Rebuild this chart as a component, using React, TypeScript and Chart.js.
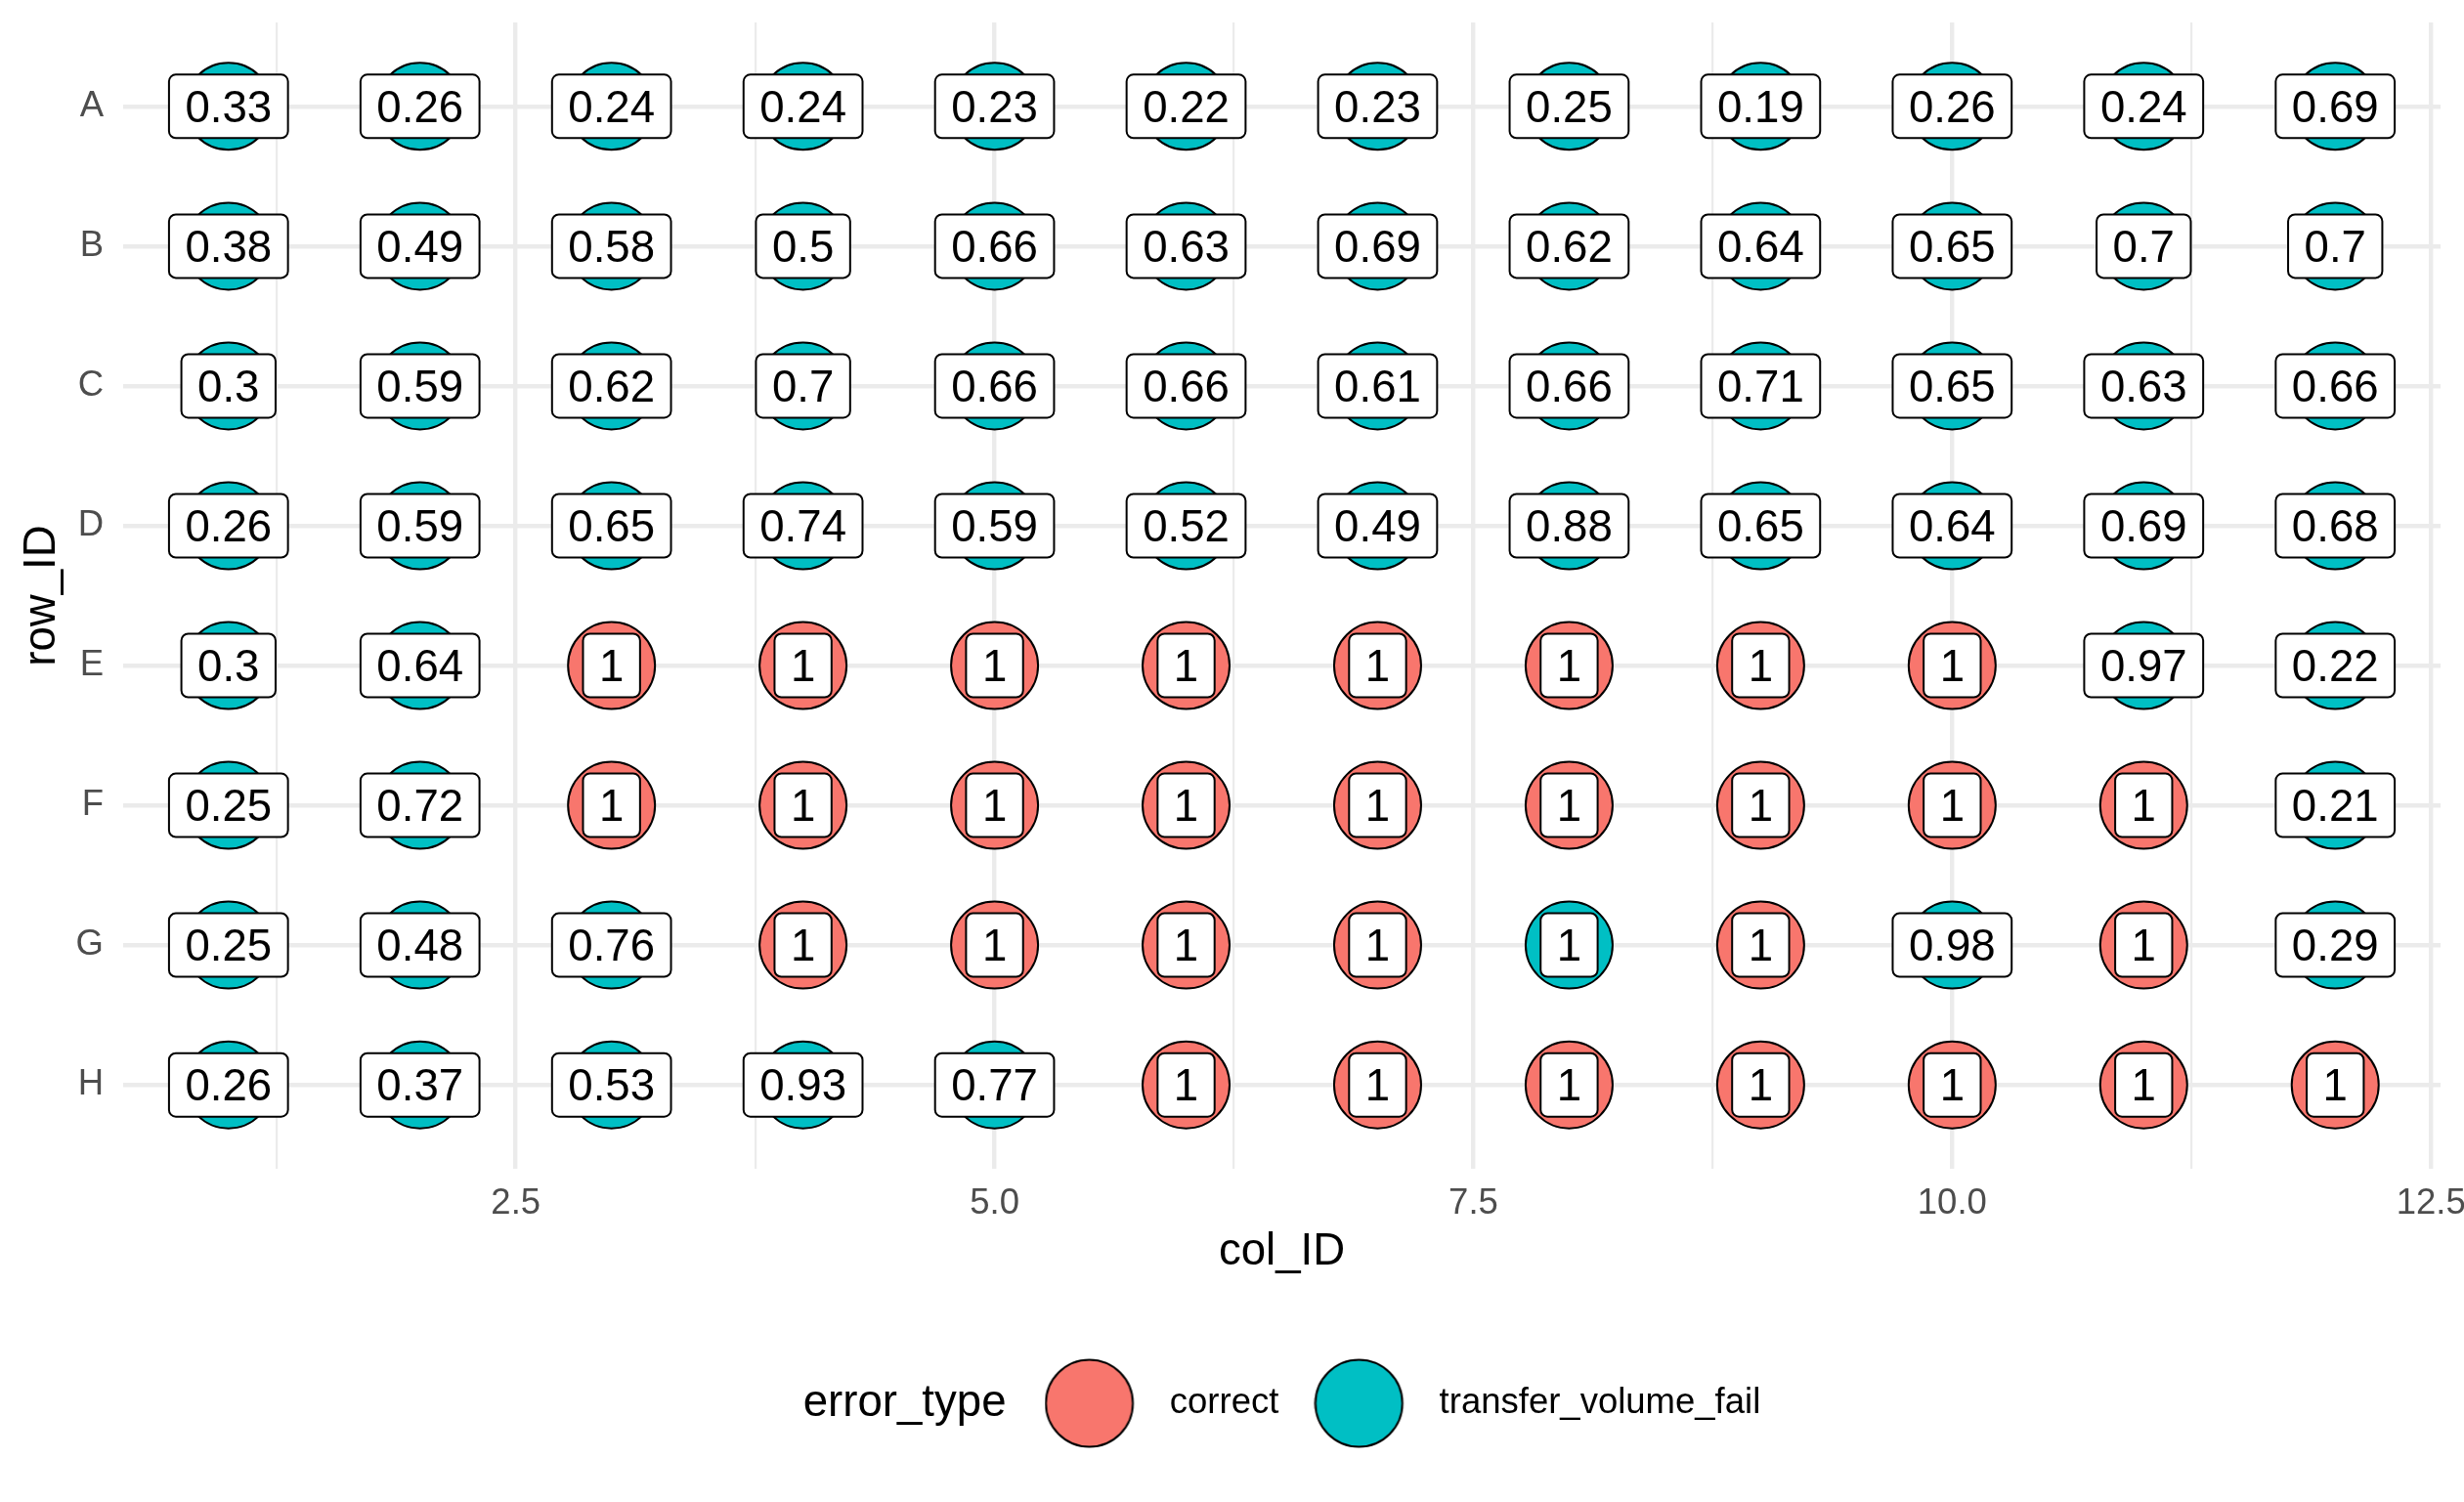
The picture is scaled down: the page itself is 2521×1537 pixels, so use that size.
import React, { useEffect, useRef } from 'react';
import { Chart, registerables } from 'chart.js';

Chart.register(...registerables);

// ---------- data ----------
const rowLabels = ['A', 'B', 'C', 'D', 'E', 'F', 'G', 'H'];
const colIds = [1, 2, 3, 4, 5, 6, 7, 8, 9, 10, 11, 12];
const xTickValues = [1.25, 2.5, 3.75, 5, 6.25, 7.5, 8.75, 10, 11.25, 12.5];
const xMajorTicks = [2.5, 5, 7.5, 10, 12.5];

const valuesA = [0.33, 0.26, 0.24, 0.24, 0.23, 0.22, 0.23, 0.25, 0.19, 0.26, 0.24, 0.69];
const valuesB = [0.38, 0.49, 0.58, 0.5, 0.66, 0.63, 0.69, 0.62, 0.64, 0.65, 0.7, 0.7];
const valuesC = [0.3, 0.59, 0.62, 0.7, 0.66, 0.66, 0.61, 0.66, 0.71, 0.65, 0.63, 0.66];
const valuesD = [0.26, 0.59, 0.65, 0.74, 0.59, 0.52, 0.49, 0.88, 0.65, 0.64, 0.69, 0.68];
const valuesE = [0.3, 0.64, 1, 1, 1, 1, 1, 1, 1, 1, 0.97, 0.22];
const valuesF = [0.25, 0.72, 1, 1, 1, 1, 1, 1, 1, 1, 1, 0.21];
const valuesG = [0.25, 0.48, 0.76, 1, 1, 1, 1, 1, 1, 0.98, 1, 0.29];
const valuesH = [0.26, 0.37, 0.53, 0.93, 0.77, 1, 1, 1, 1, 1, 1, 1];

const C = 'correct';
const T = 'transfer_volume_fail';
const errorTypes = [C, T];
const typesA = [T, T, T, T, T, T, T, T, T, T, T, T];
const typesB = [T, T, T, T, T, T, T, T, T, T, T, T];
const typesC = [T, T, T, T, T, T, T, T, T, T, T, T];
const typesD = [T, T, T, T, T, T, T, T, T, T, T, T];
const typesE = [T, T, C, C, C, C, C, C, C, C, T, T];
const typesF = [T, T, C, C, C, C, C, C, C, C, C, T];
const typesG = [T, T, T, C, C, C, C, T, C, T, C, T];
const typesH = [T, T, T, T, T, C, C, C, C, C, C, C];

const rowValues = [valuesA, valuesB, valuesC, valuesD, valuesE, valuesF, valuesG, valuesH];
const rowTypes = [typesA, typesB, typesC, typesD, typesE, typesF, typesG, typesH];

// ---------- styles ----------
const FONT = "'Liberation Sans', Arial, Helvetica, sans-serif";
const TITLE_SIZE = 45.6;
const TICK_SIZE = 36.5;
const LABEL_SIZE = 45.6;
const typeColors: Record<string, string> = { correct: '#F8766D', transfer_volume_fail: '#00BFC4' };
const GRID_COLOR = '#EBEBEB';
const POINT_RADIUS = 44.5;
const LABEL_PAD_X = 16.5;
const LABEL_BOX_H = 65;
const LEGEND_TITLE = 'error_type';
const LEGEND_TITLE_GAP = 39;
const LEGEND_SYMBOL_W = 110;

function makeSymbol(color: string): HTMLCanvasElement {
  const c = document.createElement('canvas');
  c.width = LEGEND_SYMBOL_W;
  c.height = 96;
  const g = c.getContext('2d')!;
  g.beginPath();
  g.arc(46, 48, POINT_RADIUS, 0, Math.PI * 2);
  g.fillStyle = color;
  g.fill();
  g.lineWidth = 2;
  g.strokeStyle = '#000';
  g.stroke();
  return c;
}

function roundRectPath(ctx: CanvasRenderingContext2D, x: number, y: number, w: number, h: number, r: number) {
  ctx.beginPath();
  ctx.moveTo(x + r, y);
  ctx.lineTo(x + w - r, y);
  ctx.arcTo(x + w, y, x + w, y + r, r);
  ctx.lineTo(x + w, y + h - r);
  ctx.arcTo(x + w, y + h, x + w - r, y + h, r);
  ctx.lineTo(x + r, y + h);
  ctx.arcTo(x, y + h, x, y + h - r, r);
  ctx.lineTo(x, y + r);
  ctx.arcTo(x, y, x + r, y, r);
  ctx.closePath();
}

const cellLabelPlugin = {
  id: 'cellLabels',
  afterDatasetsDraw(chart: any) {
    const ctx: CanvasRenderingContext2D = chart.ctx;
    ctx.save();
    ctx.font = `${LABEL_SIZE}px ${FONT}`;
    chart.data.datasets.forEach((ds: any, di: number) => {
      const meta = chart.getDatasetMeta(di);
      meta.data.forEach((el: any, j: number) => {
        const text = String(ds.data[j].value);
        const tw = ctx.measureText(text).width;
        const w = tw + 2 * LABEL_PAD_X;
        const h = LABEL_BOX_H;
        roundRectPath(ctx, el.x - w / 2, el.y - h / 2, w, h, 7);
        ctx.fillStyle = '#FFFFFF';
        ctx.fill();
        ctx.lineWidth = 2;
        ctx.strokeStyle = '#000000';
        ctx.stroke();
        ctx.fillStyle = '#000000';
        ctx.textAlign = 'center';
        ctx.textBaseline = 'alphabetic';
        ctx.fillText(text, el.x, el.y + (0.716 * LABEL_SIZE) / 2);
      });
    });
    ctx.restore();
  },
};

const legendTitlePlugin = {
  id: 'legendTitle',
  afterUpdate(chart: any) {
    const lg = chart.legend;
    if (!lg || !lg.legendHitBoxes || !lg.legendHitBoxes.length) return;
    const ctx: CanvasRenderingContext2D = chart.ctx;
    ctx.save();
    ctx.font = `${TITLE_SIZE}px ${FONT}`;
    const titleW = ctx.measureText(LEGEND_TITLE).width;
    ctx.restore();
    const boxes = lg.legendHitBoxes;
    const pad = lg.options.labels.padding;
    const rowW = boxes.reduce((s: number, b: any) => s + b.width, 0) + pad * (boxes.length - 1);
    const total = titleW + LEGEND_TITLE_GAP + rowW;
    const ca = chart.chartArea;
    const start = (ca.left + ca.right) / 2 - total / 2;
    const newLeft = start + titleW + LEGEND_TITLE_GAP - pad;
    const dx = newLeft - lg.left;
    lg.left += dx;
    lg.right += dx;
    // let the large legend keys show fully (legend drawing is clipped to its box)
    lg.bottom = Math.max(lg.bottom, lg.top + 140);
    boxes.forEach((b: any) => { b.left += dx; });
    chart.$legendTitleX = start;
  },
  afterDraw(chart: any) {
    const lg = chart.legend;
    if (!lg || chart.$legendTitleX === undefined) return;
    const ctx: CanvasRenderingContext2D = chart.ctx;
    const pad = lg.options.labels.padding;
    const cy = lg.top + pad + TICK_SIZE / 2;
    ctx.save();
    ctx.font = `${TITLE_SIZE}px ${FONT}`;
    ctx.fillStyle = '#000000';
    ctx.textAlign = 'left';
    ctx.textBaseline = 'middle';
    ctx.fillText(LEGEND_TITLE, chart.$legendTitleX, cy);
    ctx.restore();
  },
};

export default function App() {
  const canvasRef = useRef<HTMLCanvasElement | null>(null);

  useEffect(() => {
    if (!canvasRef.current) return;
    const datasets = errorTypes.map((type) => {
      const pts: any[] = [];
      rowLabels.forEach((_, ri) => {
        colIds.forEach((col, ci) => {
          if (rowTypes[ri][ci] === type) pts.push({ x: col, y: ri, value: rowValues[ri][ci] });
        });
      });
      return {
        label: type,
        data: pts,
        pointRadius: POINT_RADIUS,
        pointHoverRadius: POINT_RADIUS,
        pointBackgroundColor: typeColors[type],
        backgroundColor: typeColors[type],
        pointBorderColor: '#000000',
        borderColor: '#000000',
        pointBorderWidth: 2,
        showLine: false,
        clip: false,
      };
    });

    const symbols: Record<string, HTMLCanvasElement> = {
      correct: makeSymbol(typeColors.correct),
      transfer_volume_fail: makeSymbol(typeColors.transfer_volume_fail),
    };

    const chart = new Chart(canvasRef.current, {
      type: 'scatter',
      data: { datasets } as any,
      plugins: [cellLabelPlugin, legendTitlePlugin] as any,
      options: {
        animation: false,
        responsive: false,
        devicePixelRatio: 1,
        events: [],
        layout: { autoPadding: false, padding: { left: 0, top: 23, right: 24, bottom: 72.75 } },
        scales: {
          x: {
            type: 'linear',
            min: 0.45,
            max: 12.55,
            afterBuildTicks: (scale: any) => {
              scale.ticks = xTickValues.map((v) => ({ value: v }));
            },
            afterFit: (scale: any) => {
              scale.height = 185.75;
              scale.paddingLeft = 0;
              scale.paddingRight = 0;
              scale.paddingTop = 0;
              scale.paddingBottom = 0;
            },
            border: { display: false },
            grid: {
              color: GRID_COLOR,
              drawTicks: false,
              lineWidth: (ctx: any) => (xMajorTicks.includes(ctx.tick?.value) ? 4.4 : 2.2),
            },
            ticks: {
              autoSkip: false,
              maxRotation: 0,
              minRotation: 0,
              padding: 14,
              color: '#4D4D4D',
              font: { size: TICK_SIZE, family: FONT },
              callback: (value: any) => (xMajorTicks.includes(Number(value)) ? Number(value).toFixed(1) : ''),
            },
            title: {
              display: true,
              text: 'col_ID',
              color: '#000000',
              font: { size: TITLE_SIZE, family: FONT },
              padding: { top: 0, bottom: 73.4 },
            },
          },
          y: {
            type: 'linear',
            min: -0.6,
            max: 7.6,
            reverse: true,
            afterBuildTicks: (scale: any) => {
              scale.ticks = rowLabels.map((_, i) => ({ value: i }));
            },
            afterFit: (scale: any) => {
              scale.width = 126;
              scale.paddingLeft = 0;
              scale.paddingRight = 0;
              scale.paddingTop = 0;
              scale.paddingBottom = 0;
            },
            border: { display: false },
            grid: { color: GRID_COLOR, drawTicks: false, lineWidth: 4.4 },
            ticks: {
              autoSkip: false,
              padding: 20,
              color: '#4D4D4D',
              font: { size: TICK_SIZE, family: FONT },
              callback: (value: any) => rowLabels[Number(value)] ?? '',
            },
            title: {
              display: true,
              text: 'row_ID',
              color: '#000000',
              font: { size: TITLE_SIZE, family: FONT },
              padding: { top: 16, bottom: 0 },
            },
          },
        },
        plugins: {
          tooltip: { enabled: false },
          legend: {
            display: true,
            position: 'bottom',
            align: 'start',
            labels: {
              usePointStyle: true,
              pointStyleWidth: LEGEND_SYMBOL_W,
              padding: 36,
              color: '#000000',
              font: { size: TICK_SIZE, family: FONT },
              generateLabels: () =>
                errorTypes.map((type, i) => ({
                  text: type,
                  pointStyle: symbols[type] as any,
                  fillStyle: typeColors[type],
                  strokeStyle: '#000000',
                  lineWidth: 2,
                  fontColor: '#000000',
                  hidden: false,
                  datasetIndex: i,
                })),
            },
          },
        },
      } as any,
    });

    return () => chart.destroy();
  }, []);

  return (
    <div style={{ position: 'fixed', left: 0, top: 0, width: 2521, height: 1537, background: '#FFFFFF' }}>
      <canvas ref={canvasRef} width={2521} height={1537} style={{ display: 'block', width: 2521, height: 1537 }} />
    </div>
  );
}
